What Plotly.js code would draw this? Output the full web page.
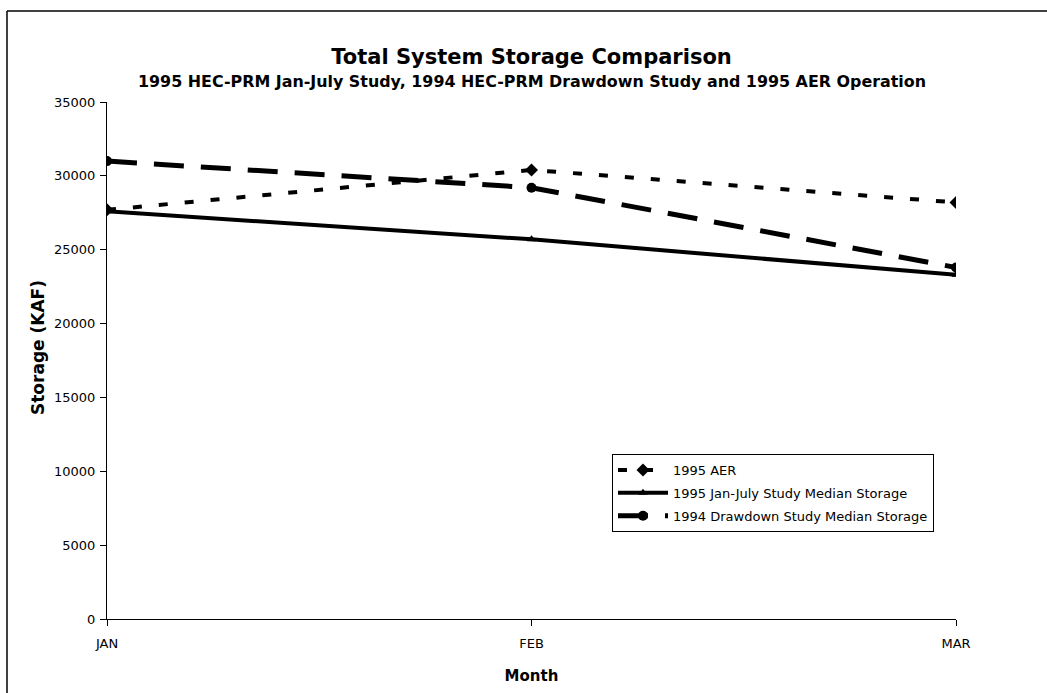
<!DOCTYPE html>
<html>
<head>
<meta charset="utf-8">
<script src="https://cdn.plot.ly/plotly-3.0.1.min.js"></script>
<style>
  html, body { margin: 0; padding: 0; background: #fff; }
  #chart { width: 1047px; height: 693px; }
</style>
</head>
<body>
<div id="chart"></div>
<script>
// ---- data ----
const months = ["JAN", "FEB", "MAR"];
const aer1995 = [27700, 30400, 28200];
const janJuly1995 = [27600, 25700, 23300];
const drawdown1994 = [31000, 29200, 23800];
const seriesNames = [
  "1995 AER",
  "1995 Jan-July Study Median Storage",
  "1994 Drawdown Study Median Storage"
];
const yTickVals = [0, 5000, 10000, 15000, 20000, 25000, 30000, 35000];

const FONT = "DejaVu Sans, Liberation Sans, Arial, sans-serif";

const traces = [
  {
    x: months, y: aer1995, name: seriesNames[0], type: "scatter", mode: "lines+markers",
    legendgroup: "a",
    line: { color: "#000", width: 4, dash: "9px,17px" },
    marker: { symbol: "diamond", size: 10, color: "#000" }
  },
  {
    x: months, y: janJuly1995, name: seriesNames[1], type: "scatter", mode: "lines+markers",
    legendgroup: "b",
    line: { color: "#000", width: 4 },
    marker: { symbol: "triangle-up", size: 8, color: "#000" }
  },
  {
    x: months, y: drawdown1994, name: seriesNames[2], type: "scatter", mode: "lines+markers",
    legendgroup: "c",
    line: { color: "#000", width: 5, dash: "30px,17px" },
    marker: { symbol: "circle", size: 10, color: "#000" }
  }
];

const layout = {
  width: 1047, height: 693,
  margin: { l: 107, r: 91, t: 102, b: 74, pad: 0 },
  paper_bgcolor: "#fff", plot_bgcolor: "#fff",
  font: { family: FONT, color: "#000", size: 13 },
  showlegend: true,
  title: {
    text: "<b>Total System Storage Comparison</b>",
    font: { family: FONT, size: 21, color: "#000" },
    xref: "paper", x: 0.5, xanchor: "center",
    yref: "container", y: 1 - 57 / 693, yanchor: "middle"
  },
  xaxis: {
    type: "category",
    range: [0, 2],
    showgrid: false, zeroline: false,
    showline: true, linecolor: "#000", linewidth: 1,
    ticks: "outside", ticklen: 6, tickcolor: "#000", tickwidth: 1,
    ticklabelstandoff: 6,
    tickfont: { family: FONT, size: 13, color: "#000" },
    title: { text: "<b>Month</b>", font: { family: FONT, size: 15, color: "#000" }, standoff: 20 }
  },
  yaxis: {
    range: [0, 35000],
    tickvals: yTickVals,
    tickformat: "d",
    showgrid: false, zeroline: false,
    showline: true, linecolor: "#000", linewidth: 1,
    ticks: "outside", ticklen: 6, tickcolor: "#000", tickwidth: 1,
    ticklabelstandoff: 2,
    tickfont: { family: FONT, size: 13, color: "#000" },
    title: { text: "" }
  },
  legend: {
    x: (612 - 107) / 849, y: (619 - 454) / 517, xanchor: "left", yanchor: "top",
    bgcolor: "#fff", bordercolor: "#000", borderwidth: 1,
    font: { family: FONT, size: 13, color: "#000" },
    tracegroupgap: 3, itemwidth: 50
  },
  annotations: [
    {
      text: "<b>1995 HEC-PRM Jan-July Study, 1994 HEC-PRM Drawdown Study and 1995 AER Operation</b>",
      xref: "paper", x: (532 - 107) / 849, xanchor: "center",
      yref: "paper", y: (619 - 81) / 517, yanchor: "middle",
      showarrow: false, font: { family: FONT, size: 15.9, color: "#000" }
    },
    {
      text: "<b>Storage (KAF)</b>",
      xref: "paper", x: (38 - 107) / 849, xanchor: "center",
      yref: "paper", y: (619 - 348) / 517, yanchor: "middle",
      textangle: -90,
      showarrow: false, font: { family: FONT, size: 17, color: "#000" }
    }
  ],
  shapes: [
    { type: "line", xref: "paper", yref: "paper",
      x0: (7 - 107) / 849, x1: (1047 - 107) / 849,
      y0: (619 - 11) / 517, y1: (619 - 11) / 517,
      line: { color: "#000", width: 1.5 } },
    { type: "line", xref: "paper", yref: "paper",
      x0: (7 - 107) / 849, x1: (7 - 107) / 849,
      y0: (619 - 11) / 517, y1: (619 - 693) / 517,
      line: { color: "#000", width: 1.5 } }
  ]
};

Plotly.newPlot("chart", traces, layout, { displayModeBar: false, staticPlot: true });
</script>
</body>
</html>
